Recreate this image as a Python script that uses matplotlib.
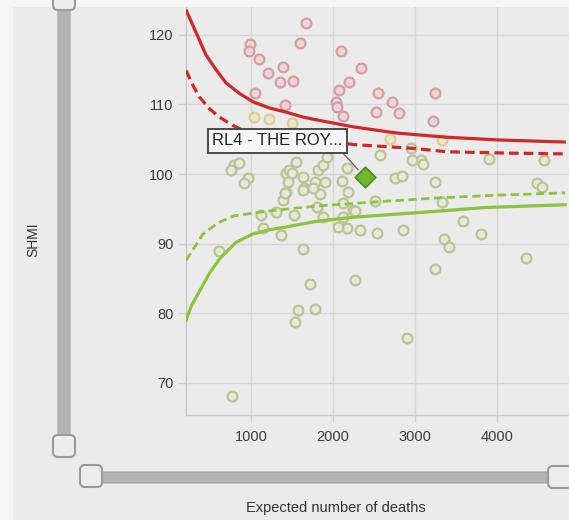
import matplotlib
matplotlib.use("Agg")
import matplotlib.pyplot as plt
from matplotlib.patches import FancyBboxPatch, Rectangle

plt.rcParams['font.family'] = ['Liberation Sans', 'DejaVu Sans']

# ---------------- data ----------------
x_ticks = [1000, 2000, 3000, 4000]
y_ticks = [70, 80, 90, 100, 110, 120]

# trusts above the 99.8% limit
high_x = [1668, 1595, 988, 976, 1097, 1389, 1207, 1352, 1510, 1049, 1413, 2094,
          2337, 2191, 2069, 2543, 2725, 2033, 2045, 2118, 2519, 2810, 3248, 3223]
high_y = [121.7, 118.8, 118.7, 117.7, 116.5, 115.4, 114.5, 113.2, 113.4, 111.6, 109.9, 117.7,
          115.2, 113.2, 112.1, 111.6, 110.3, 110.3, 109.6, 108.3, 108.9, 108.8, 111.6, 107.6]

# trusts between the 95% and 99.8% upper limits
warn_x = [1036, 1219, 1498, 3333, 2689]
warn_y = [108.2, 107.9, 107.3, 104.9, 105.0]

# all other trusts
mid_x = [2956, 3078, 3102, 2968, 3904, 4572, 2762, 2847, 3248, 2567, 4487, 4548,
         3333, 3588, 3807, 3357, 3418, 4353, 3248, 2264, 2908, 769, 1717, 1571,
         1778, 1535, 1632, 611, 793, 854, 757, 964, 915, 1425, 1462, 1632,
         1450, 1425, 1389, 1644, 1547, 1522, 1304, 1122, 1146, 1365, 1814, 1875,
         1778, 1899, 1838, 1753, 2106, 2179, 2507, 2239, 2118, 2166, 2324, 2531,
         2859, 1923, 2166, 1498, 1802, 1875, 2057, 2264, 2118, 1632, 1413]
mid_y = [103.7, 102.0, 101.4, 102.0, 102.2, 102.0, 99.4, 99.7, 98.9, 102.7, 98.7, 98.1,
         96.0, 93.2, 91.4, 90.7, 89.5, 87.9, 86.3, 84.8, 76.4, 68.1, 84.2, 80.5,
         80.6, 78.7, 89.2, 88.9, 101.3, 101.6, 100.6, 99.4, 98.7, 100.1, 100.6, 99.6,
         98.9, 97.4, 96.3, 98.0, 101.7, 94.1, 94.5, 94.1, 92.2, 91.2, 100.6, 101.3,
         98.9, 98.9, 97.1, 98.0, 99.0, 97.4, 96.1, 94.8, 93.8, 92.2, 92.0, 91.5,
         92.0, 102.4, 100.9, 100.1, 95.3, 93.8, 92.4, 94.7, 95.8, 97.7, 97.3]

# highlighted trust
sel_name = "RL4 - THE ROY..."
sel_x = [2385]
sel_y = [99.6]

# control limits
up998_x = [207, 289, 369, 451, 573, 695, 857, 1021, 1223, 1427, 1631, 1793, 2239, 2774, 3381, 4025, 4839]
up998_y = [123.6, 121.4, 119.3, 117.1, 115.0, 113.1, 111.6, 110.4, 109.5, 108.9, 108.2, 107.8, 106.8, 105.9, 105.3, 104.9, 104.6]
up95_x = [207, 289, 369, 491, 613, 777, 899, 1200, 1700, 2293, 2976, 3391, 4196, 4855]
up95_y = [114.9, 112.8, 111.1, 109.4, 108.2, 107.0, 106.3, 105.9, 105.0, 104.2, 103.7, 103.2, 103.0, 102.9]
lo95_x = [207, 329, 414, 597, 792, 1024, 1220, 1451, 1793, 2513, 3306, 4062, 4831]
lo95_y = [87.6, 89.8, 91.4, 93.0, 94.0, 94.4, 94.7, 95.0, 95.4, 96.0, 96.6, 97.0, 97.3]
lo998_x = [207, 277, 378, 500, 622, 817, 1021, 1223, 1427, 1793, 2244, 3306, 3855, 4831]
lo998_y = [79.0, 81.2, 83.3, 85.9, 87.9, 90.2, 91.4, 92.0, 92.4, 93.2, 93.8, 94.7, 95.2, 95.6]

x_label = "Expected number of deaths"
y_label = "SHMI"

# ---------------- figure ----------------
W, H = 569, 520
fig = plt.figure(figsize=(W / 100, H / 100), dpi=100)
fig.patch.set_facecolor("#f6f6f6")

# background / decoration layer in pixel coordinates
bg = fig.add_axes([0, 0, 1, 1], zorder=0)
bg.set_xlim(0, W)
bg.set_ylim(H, 0)
bg.axis("off")
bg.add_patch(Rectangle((13, 7), W - 13, H - 7, fc="#ebebeb", ec="none"))

track_c = "#b4b4b4"
handle_fc = "#ececec"
handle_ec = "#9a9a9a"
# vertical slider
bg.add_patch(FancyBboxPatch((58, -20), 12, 462, boxstyle="round,pad=0,rounding_size=4",
                            fc=track_c, ec="#a5a5a5", lw=0.8))
bg.add_patch(FancyBboxPatch((53, -12), 22, 22, boxstyle="round,pad=0,rounding_size=5",
                            fc=handle_fc, ec=handle_ec, lw=1.5))
bg.add_patch(FancyBboxPatch((53, 435), 22, 22, boxstyle="round,pad=0,rounding_size=5",
                            fc=handle_fc, ec=handle_ec, lw=1.5))
# horizontal slider
bg.add_patch(FancyBboxPatch((92, 472), 468, 11, boxstyle="round,pad=0,rounding_size=4",
                            fc=track_c, ec="#a5a5a5", lw=0.8))
bg.add_patch(FancyBboxPatch((80, 465), 22, 22, boxstyle="round,pad=0,rounding_size=5",
                            fc=handle_fc, ec=handle_ec, lw=1.5))
bg.add_patch(FancyBboxPatch((548, 466), 24, 22, boxstyle="round,pad=0,rounding_size=5",
                            fc=handle_fc, ec=handle_ec, lw=1.5))

# main axes
ax = fig.add_axes([186 / W, (H - 415) / H, 383 / W, 408 / H], zorder=1)
ax.set_facecolor("none")
ax.set_xlim(207, 4878)
ax.set_ylim(65.4, 124.0)
ax.set_xticks(x_ticks)
ax.set_yticks(y_ticks)
ax.grid(True, color="#d6d6d6", lw=1.0)
ax.set_axisbelow(True)
for s in ["top", "right"]:
    ax.spines[s].set_visible(False)
for s in ["left", "bottom"]:
    ax.spines[s].set_color("#c9c9c9")
    ax.spines[s].set_linewidth(1.0)
ax.tick_params(axis="both", colors="#cfcfcf", labelcolor="#3a3a3a", labelsize=10.5, width=1.0)
ax.tick_params(axis="y", length=6, pad=3)
ax.tick_params(axis="x", length=5, pad=6)

# points
ax.scatter(mid_x, mid_y, s=50, facecolor="#e6e8d8", edgecolor="#bcc398", linewidth=1.6, zorder=3)
ax.scatter(warn_x, warn_y, s=50, facecolor="#ebe6cf", edgecolor="#d8cf96", linewidth=1.6, zorder=3)
ax.scatter(high_x, high_y, s=50, facecolor="#ead6d8", edgecolor="#d59ea6", linewidth=1.6, zorder=3)

# control limits
red = "#d02828"
green = "#8cc43c"
ax.plot(up998_x, up998_y, color=red, lw=2.3, zorder=4, solid_capstyle="butt")
ax.plot(up95_x, up95_y, color=red, lw=2.3, ls=(0, (3, 1.6)), zorder=4)
ax.plot(lo95_x, lo95_y, color=green, lw=2.0, ls=(0, (3, 1.6)), zorder=4)
ax.plot(lo998_x, lo998_y, color=green, lw=2.3, zorder=4)

# highlighted trust
ax.scatter(sel_x, sel_y, marker="D", s=110, facecolor="#6cb82a", edgecolor="#4f8a1e",
           linewidth=1.2, zorder=6)
ax.annotate(sel_name, xy=(sel_x[0], sel_y[0]), xytext=(-87, 36), textcoords="offset pixels",
            ha="center", va="center", fontsize=12, color="#222222", zorder=7,
            bbox=dict(boxstyle="square,pad=0.25", fc="#f7f7f7", ec="#4a4a4a", lw=1.4),
            arrowprops=dict(arrowstyle="-", color="#666666", lw=1.0, shrinkA=0, shrinkB=7,
                            relpos=(0.97, 0.0)))

# axis titles
fig.text(33 / W, 1 - 240 / H, y_label, rotation=90, ha="center", va="center",
         fontsize=10, color="#333333")
fig.text(336 / W, 1 - 508 / H, x_label, ha="center", va="center",
         fontsize=10.5, color="#333333")

fig.savefig("out.png", dpi=100, facecolor=fig.get_facecolor())
